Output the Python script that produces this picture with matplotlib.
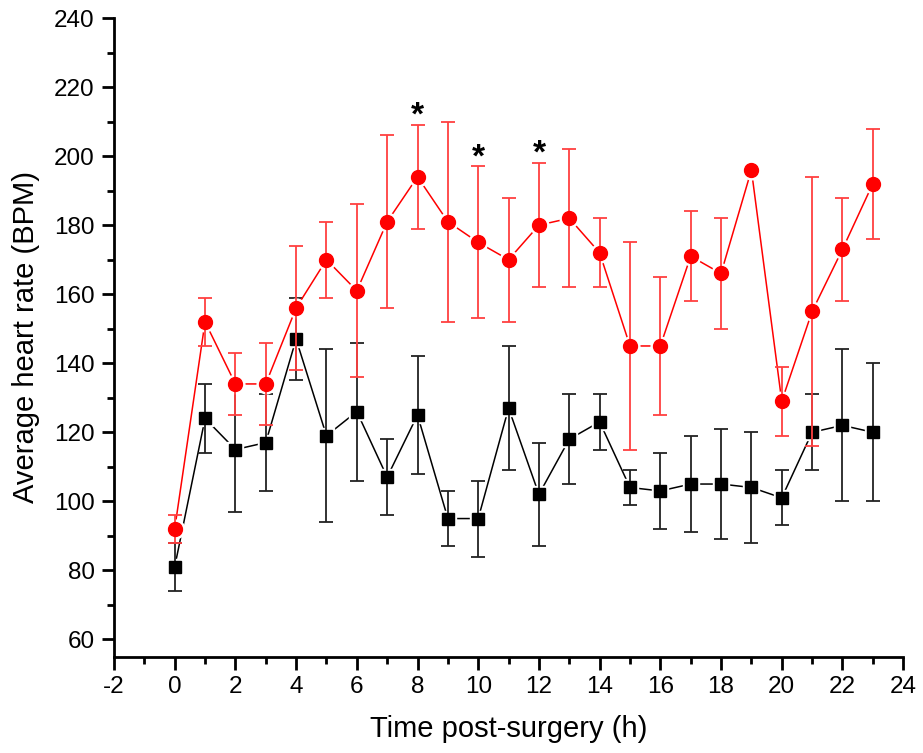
import matplotlib.pyplot as plt
import numpy as np

plt.rcParams['font.family'] = ['Liberation Sans', 'DejaVu Sans']
plt.rcParams['axes.unicode_minus'] = False

# hours after surgery
hours = np.arange(0, 24)

# control group (black squares)
ctrl_mean = [81, 124, 115, 117, 147, 119, 126, 107, 125, 95, 95, 127,
             102, 118, 123, 104, 103, 105, 105, 104, 101, 120, 122, 120]
ctrl_err = [7, 10, 18, 14, 12, 25, 20, 11, 17, 8, 11, 18,
            15, 13, 8, 5, 11, 14, 16, 16, 8, 11, 22, 20]

# treated group (red circles)
trt_mean = [92, 152, 134, 134, 156, 170, 161, 181, 194, 181, 175, 170,
            180, 182, 172, 145, 145, 171, 166, 196, 129, 155, 173, 192]
trt_err = [4, 7, 9, 12, 18, 11, 25, 25, 15, 29, 22, 18,
           18, 20, 10, 30, 20, 13, 16, 0, 10, 39, 15, 16]

# significance marks
sig_hours = [8, 10, 12]


def draw_series(ax, x, y, err, color, ecolor, marker, ms, z):
    # connecting line, broken slightly around each marker
    ax.plot(x, y, color=color, lw=1.1, zorder=z)
    ax.plot(x, y, ls='none', marker=marker, ms=ms + 3.5, mfc='white',
            mec='white', zorder=z + 0.1)
    ax.errorbar(x, y, yerr=err, fmt='none', ecolor=ecolor, elinewidth=1.3,
                capsize=5, capthick=1.3, zorder=z + 0.2)
    ax.plot(x, y, ls='none', marker=marker, ms=ms, mfc=color, mec=color,
            zorder=z + 0.3)


fig = plt.figure(figsize=(9.23, 7.53), dpi=100)
ax = fig.add_axes([0.1235, 0.128, 0.855, 0.848])

draw_series(ax, hours, ctrl_mean, ctrl_err, 'black', '#222222', 's', 8.5, 3)
draw_series(ax, hours, trt_mean, trt_err, '#ff0000', '#ff4040', 'o', 10, 4)

tops = np.array(trt_mean) + np.array(trt_err)
for h in sig_hours:
    ax.text(h, tops[h] + 2.5, '*', ha='center', va='center', fontsize=24,
            fontweight='bold')

ax.set_xlim(-2, 24)
ax.set_ylim(55, 240)
ax.set_xticks(np.arange(-2, 25, 2))
ax.set_xticks(np.arange(-1, 24, 2), minor=True)
ax.set_yticks(np.arange(60, 241, 20))
ax.set_yticks(np.arange(70, 240, 20), minor=True)

for side in ['top', 'right']:
    ax.spines[side].set_visible(False)
for side in ['left', 'bottom']:
    ax.spines[side].set_linewidth(2)

ax.tick_params(which='major', direction='out', length=9, width=2,
               labelsize=17.5, pad=5)
ax.tick_params(which='minor', direction='out', length=5, width=2)

ax.set_xlabel('Time post-surgery (h)', fontsize=21, labelpad=12)
ax.set_ylabel('Average heart rate (BPM)', fontsize=21, labelpad=10)

fig.savefig('out.png', dpi=100)
